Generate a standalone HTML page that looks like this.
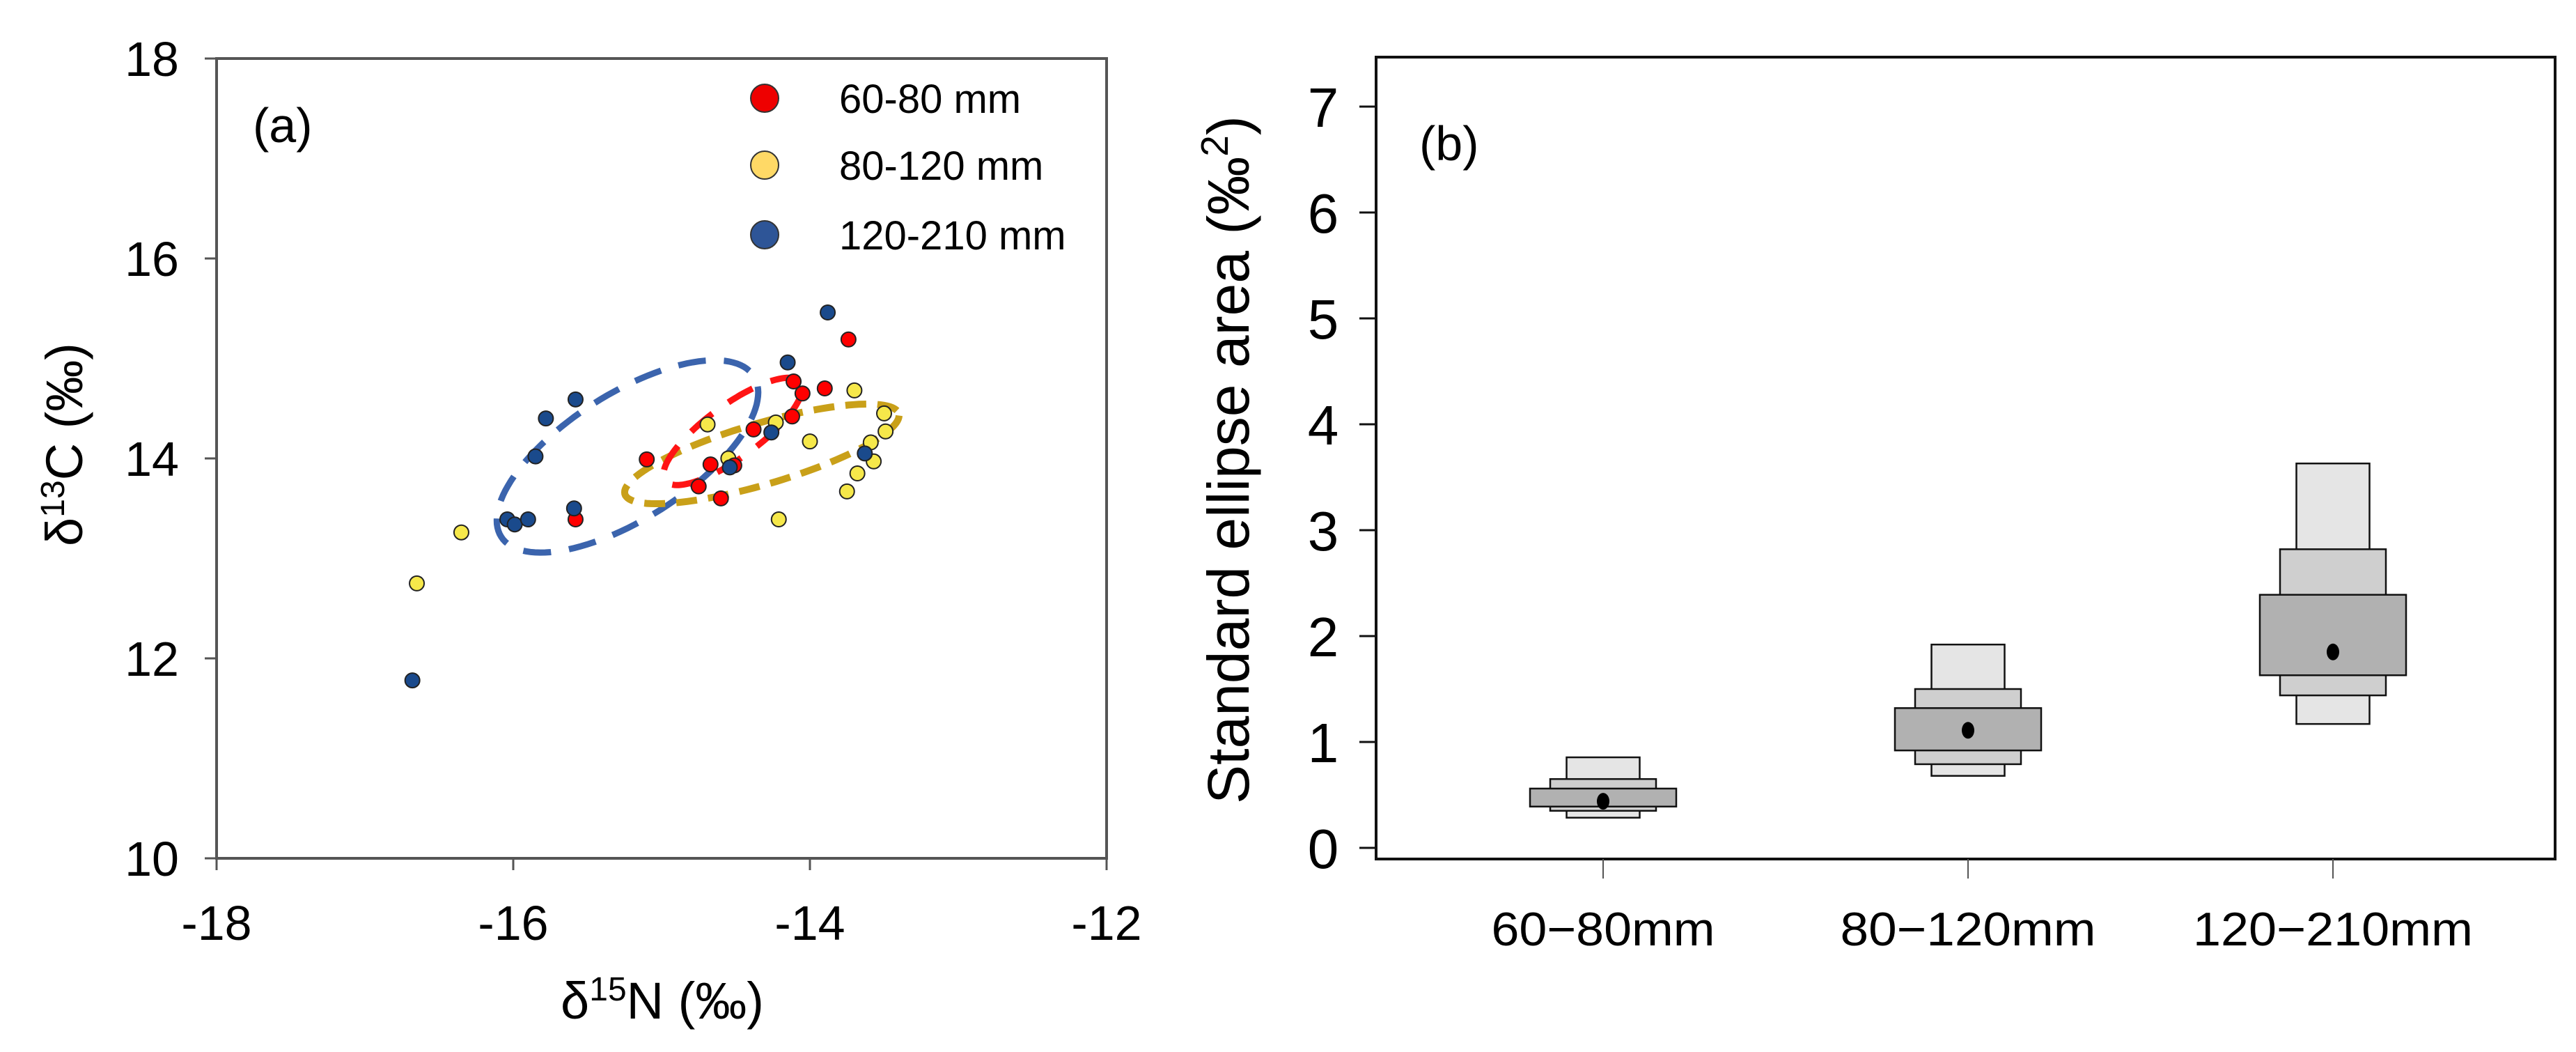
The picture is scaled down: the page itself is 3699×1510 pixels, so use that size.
<!DOCTYPE html>
<html><head><meta charset="utf-8">
<style>
html,body{margin:0;padding:0;background:#fff;}
svg{display:block;font-family:"Liberation Sans",Arial,sans-serif;}
</style></head>
<body>
<svg id="fig" width="3699" height="1510" viewBox="0 0 3699 1510" xmlns="http://www.w3.org/2000/svg">
<rect x="0" y="0" width="3699" height="1510" fill="#fff"/>
<g id="panelA"></g>
<g id="panelB"></g>
</svg>
<script>
// ---------- Panel A data ----------
const xTicksA = [-18, -16, -14, -12];
const yTicksA = [10, 12, 14, 16, 18];
const redN = [-13.74, -14.11, -14.05, -13.90, -14.12, -14.38, -15.10, -14.67, -14.51, -14.75, -14.60, -15.58];
const redC = [15.19, 14.77, 14.65, 14.70, 14.42, 14.29, 13.99, 13.94, 13.93, 13.72, 13.60, 13.39];
const yellowN = [-13.70, -14.69, -14.23, -14.00, -13.50, -13.49, -13.59, -13.57, -13.68, -13.75, -14.21, -16.35, -16.65, -14.55];
const yellowC = [14.68, 14.34, 14.36, 14.17, 14.45, 14.27, 14.16, 13.97, 13.85, 13.67, 13.39, 13.26, 12.75, 14.00];
const blueN = [-13.88, -14.15, -15.58, -15.78, -15.85, -15.59, -16.04, -15.99, -15.90, -14.26, -14.54, -13.63, -16.68];
const blueC = [15.46, 14.96, 14.59, 14.40, 14.02, 13.50, 13.39, 13.34, 13.39, 14.26, 13.91, 14.05, 11.78];
// ellipse: centre N, centre C, var N, var C, cov
const ellipseBlue = [-15.23, 14.02, 0.777, 0.925, 0.564];
const ellipseRed = [-14.52, 14.27, 0.2186, 0.2878, 0.2016];
const ellipseGold = [-14.324, 14.045, 0.8556, 0.2483, 0.3548];
const legendLabels = ["60-80 mm", "80-120 mm", "120-210 mm"];

// ---------- Panel B data ----------
const groups = ["60\u221280mm", "80\u2212120mm", "120\u2212210mm"];
const yTicksB = [0, 1, 2, 3, 4, 5, 6, 7];
const ci95Lo = [0.285, 0.68, 1.17];
const ci95Hi = [0.855, 1.92, 3.63];
const ci75Lo = [0.35, 0.79, 1.44];
const ci75Hi = [0.65, 1.50, 2.82];
const ci50Lo = [0.39, 0.92, 1.63];
const ci50Hi = [0.56, 1.32, 2.39];
const modes = [0.44, 1.11, 1.85];

const NS = "http://www.w3.org/2000/svg";
function mk(tag, attrs, parent, text) {
  const e = document.createElementNS(NS, tag);
  for (const k in attrs) e.setAttribute(k, attrs[k]);
  if (text !== undefined) e.textContent = text;
  parent.appendChild(e);
  return e;
}

// ---------- Panel A ----------
const A = document.getElementById('panelA');
const ax = {x0: 311, x1: 1589, y0: 1232, y1: 84};
const xA = v => ax.x0 + (v - (-18)) / 6 * (ax.x1 - ax.x0);
const yA = v => ax.y0 - (v - 10) / 8 * (ax.y0 - ax.y1);

let el;
el = mk('rect', {x: ax.x0, y: ax.y1, width: ax.x1 - ax.x0, height: ax.y0 - ax.y1, fill: 'none', stroke: '#555', 'stroke-width': 4}, A);



xTicksA.forEach(t => {
  const x = xA(t);
  el = mk('line', {x1: x, y1: ax.y0, x2: x, y2: ax.y0 + 17, stroke: '#555', 'stroke-width': 3}, A);
  
  
  el = mk('text', {x: x, y: 1349, 'font-size': 70, 'text-anchor': 'middle', fill: '#000'}, A, String(t));
  
  
});
yTicksA.forEach(t => {
  const y = yA(t);
  el = mk('line', {x1: ax.x0 - 17, y1: y, x2: ax.x0, y2: y, stroke: '#555', 'stroke-width': 3}, A);
  
  
  el = mk('text', {x: 257, y: y + 25, 'font-size': 70, 'text-anchor': 'end', fill: '#000'}, A, String(t));
  
  
});

el = mk('text', {x: 951, y: 1462, 'font-size': 74, 'text-anchor': 'middle', fill: '#000'}, A);


el.innerHTML = 'δ<tspan dy="-26" font-size="48">15</tspan><tspan dy="26">N (‰)</tspan>';

el = mk('text', {x: 0, y: 0, 'font-size': 74, 'text-anchor': 'middle', fill: '#000', transform: 'translate(118,638) rotate(-90)'}, A);


el.innerHTML = 'δ<tspan dy="-26" font-size="48">13</tspan><tspan dy="26">C  (‰)</tspan>';

el = mk('text', {x: 363, y: 204, 'font-size': 70, fill: '#000'}, A, '(a)');



// ellipses
function ellipsePath(p) {
  const sx = (ax.x1 - ax.x0) / 6, sy = -(ax.y0 - ax.y1) / 8;
  const vxx = p[2] * sx * sx, vyy = p[3] * sy * sy, vxy = p[4] * sx * sy;
  const L11 = Math.sqrt(vxx), L21 = vxy / L11, L22 = Math.sqrt(vyy - L21 * L21);
  const cx = xA(p[0]), cy = yA(p[1]);
  let d = '';
  for (let i = 0; i <= 120; i++) {
    const t = i / 120 * 2 * Math.PI;
    const px = cx + L11 * Math.cos(t), py = cy + L21 * Math.cos(t) + L22 * Math.sin(t);
    d += (i ? 'L' : 'M') + px.toFixed(1) + ',' + py.toFixed(1);
  }
  return d + 'Z';
}
el = mk('path', {d: ellipsePath(ellipseBlue), fill: 'none', stroke: '#3b64ad', 'stroke-width': 9, 'stroke-dasharray': '40 26'}, A);


el = mk('path', {d: ellipsePath(ellipseGold), fill: 'none', stroke: '#c9a019', 'stroke-width': 10, 'stroke-dasharray': '30 16'}, A);


el = mk('path', {d: ellipsePath(ellipseRed), fill: 'none', stroke: '#ff1414', 'stroke-width': 9, 'stroke-dasharray': '40 28'}, A);



function drawPts(N, C, fill, name) {
  N.forEach((n, i) => {
    const c = mk('circle', {cx: xA(n), cy: yA(C[i]), r: 10.5, fill: fill, stroke: '#222', 'stroke-width': 2}, A);
    
    
  });
}
drawPts(yellowN, yellowC, '#f6e84a', 'point-80-120');
drawPts(redN, redC, '#ff0000', 'point-60-80');
drawPts(blueN, blueC, '#1a4a8c', 'point-120-210');

const legFill = ['#ee0000', '#ffd966', '#2e5597'];
const legY = [141, 237, 337];
legendLabels.forEach((lab, i) => {
  el = mk('circle', {cx: 1098, cy: legY[i], r: 20, fill: legFill[i], stroke: '#333', 'stroke-width': 2}, A);
  
  
  el = mk('text', {x: 1205, y: legY[i] + 21, 'font-size': 58, fill: '#000'}, A, lab);
  
  
});

// ---------- Panel B ----------
const B = document.getElementById('panelB');
const bx = {x0: 1976, x1: 3669, y0: 1233, y1: 82};
const yZero = 1217, perUnit = 152;
const yB = v => yZero - v * perUnit;
const xCat = [2302, 2828, 3350];
const xB = i => xCat[0] + i * (xCat[2] - xCat[0]) / 2;

el = mk('rect', {x: bx.x0, y: bx.y1, width: bx.x1 - bx.x0, height: bx.y0 - bx.y1, fill: 'none', stroke: '#111', 'stroke-width': 4}, B);



yTicksB.forEach(t => {
  const y = yB(t);
  el = mk('line', {x1: bx.x0 - 24, y1: y, x2: bx.x0, y2: y, stroke: '#111', 'stroke-width': 3}, B);
  
  
  el = mk('text', {x: 1900, y: y + 29, 'font-size': 80, 'text-anchor': 'middle', fill: '#000'}, B, String(t));
  
  
});

const labW = [321, 367, 402];
groups.forEach((g, i) => {
  const x = xB(i);
  el = mk('line', {x1: x, y1: bx.y0, x2: x, y2: bx.y0 + 28, stroke: '#555', 'stroke-width': 2}, B);
  
  
  el = mk('text', {x: x, y: 1357, 'font-size': 68, 'text-anchor': 'middle', fill: '#000', textLength: labW[i], lengthAdjust: 'spacingAndGlyphs'}, B, g);
  
  

  const boxes = [[ci95Lo[i], ci95Hi[i], 105, '#e5e5e5', 'ci95-box'], [ci75Lo[i], ci75Hi[i], 152, '#cfcfcf', 'ci75-box'], [ci50Lo[i], ci50Hi[i], 210, '#b1b1b1', 'ci50-box']];
  boxes.forEach(b => {
    const r = mk('rect', {x: x - b[2] / 2, y: yB(b[1]), width: b[2], height: yB(b[0]) - yB(b[1]), fill: b[3], stroke: '#111', 'stroke-width': 2.5}, B);
    
    
  });
  el = mk('ellipse', {cx: x, cy: yB(modes[i]), rx: 9, ry: 12, fill: '#000'}, B);
  
  
});

el = mk('text', {x: 0, y: 0, 'font-size': 84, 'text-anchor': 'middle', fill: '#000', transform: 'translate(1793,660) rotate(-90)'}, B);


el.innerHTML = 'Standard ellipse area (‰<tspan dy="-30" font-size="55">2</tspan><tspan dy="30">)</tspan>';

el = mk('text', {x: 2038, y: 230, 'font-size': 70, fill: '#000'}, B, '(b)');


</script>
</body></html>
